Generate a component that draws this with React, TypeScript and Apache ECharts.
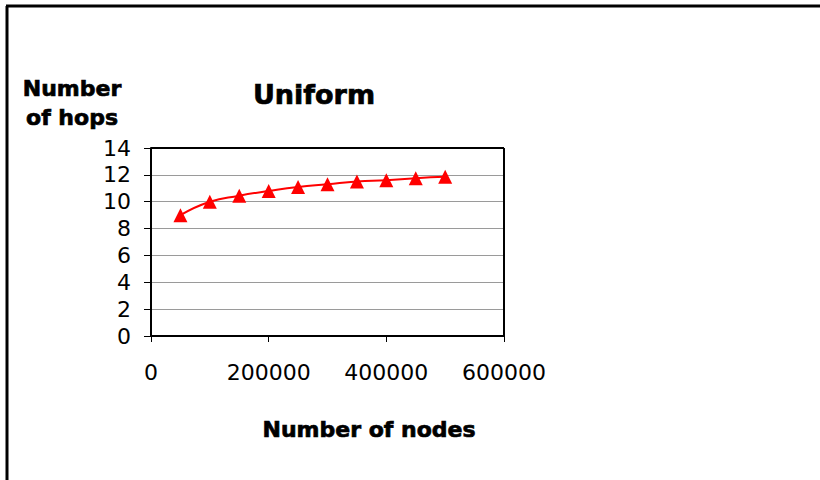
import React, { useEffect, useRef } from "react";
import * as echarts from "echarts";

const nodes = [50000, 100000, 150000, 200000, 250000, 300000, 350000, 400000, 450000, 500000];
const hops = [9.0, 10.0, 10.45, 10.8, 11.1, 11.3, 11.5, 11.6, 11.75, 11.85];
const titleText = "Uniform";
const xName = "Number of nodes";
const yNameLines = ["Number", "of hops"];

export default function App() {
  const ref = useRef<HTMLDivElement>(null);
  useEffect(() => {
    if (!ref.current) return;
    const chart = echarts.init(ref.current, null, { renderer: "svg" });
    const boldFont = "DejaVu Sans";
    const boldStyle = (text: string, size: number) => ({
      text,
      fontSize: size,
      fontWeight: "bold",
      fontFamily: boldFont,
      fill: "#000",
      stroke: "#000",
      lineWidth: 0.7,
      align: "center",
      verticalAlign: "middle",
    });
    chart.setOption({
      animation: false,
      backgroundColor: "#ffffff",
      grid: { left: 151, top: 148, width: 353, height: 188, show: false },
      xAxis: {
        type: "value",
        min: 0,
        max: 600000,
        interval: 200000,
        axisLine: { show: true, onZero: false, lineStyle: { color: "#000", width: 2 } },
        axisTick: { show: true, inside: false, length: 6, lineStyle: { color: "#000", width: 1 } },
        axisLabel: {
          color: "#000",
          fontSize: 22,
          fontFamily: "DejaVu Sans",
          margin: 25,
          formatter: (v: number) => String(v),
        },
        splitLine: { show: false },
      },
      yAxis: {
        type: "value",
        min: 0,
        max: 14,
        interval: 2,
        axisLine: { show: true, lineStyle: { color: "#000", width: 2 } },
        axisTick: { show: true, inside: false, length: 7, lineStyle: { color: "#000", width: 1 } },
        axisLabel: { color: "#000", fontSize: 22, fontFamily: "DejaVu Sans", margin: 20 },
        splitLine: { show: true, lineStyle: { color: "#9a9a9a", width: 1.2 } },
      },
      series: [
        {
          type: "line",
          data: nodes.map((n, i) => [n, hops[i]]),
          smooth: true,
          symbol: "triangle",
          symbolSize: 14,
          lineStyle: { color: "#ff0000", width: 2 },
          itemStyle: { color: "#ff0000" },
        },
      ],
      graphic: [
        { type: "line", shape: { x1: 151, y1: 148, x2: 504, y2: 148 }, style: { stroke: "#000", lineWidth: 2 }, z: 10 },
        { type: "line", shape: { x1: 504, y1: 148, x2: 504, y2: 336 }, style: { stroke: "#000", lineWidth: 2 }, z: 10 },
        { type: "line", shape: { x1: 6, y1: 6, x2: 820, y2: 6 }, style: { stroke: "#000", lineWidth: 3 } },
        { type: "line", shape: { x1: 7, y1: 6, x2: 7, y2: 480 }, style: { stroke: "#000", lineWidth: 3 } },
        { type: "text", x: 314, y: 94, style: boldStyle(titleText, 27) },
        { type: "text", x: 369, y: 429, style: boldStyle(xName, 22) },
        { type: "text", x: 72, y: 88, style: boldStyle(yNameLines[0], 22) },
        { type: "text", x: 72, y: 117, style: boldStyle(yNameLines[1], 22) },
      ],
    });
    return () => chart.dispose();
  }, []);
  return <div ref={ref} style={{ width: 820, height: 480, position: "fixed", left: 0, top: 0 }} />;
}
